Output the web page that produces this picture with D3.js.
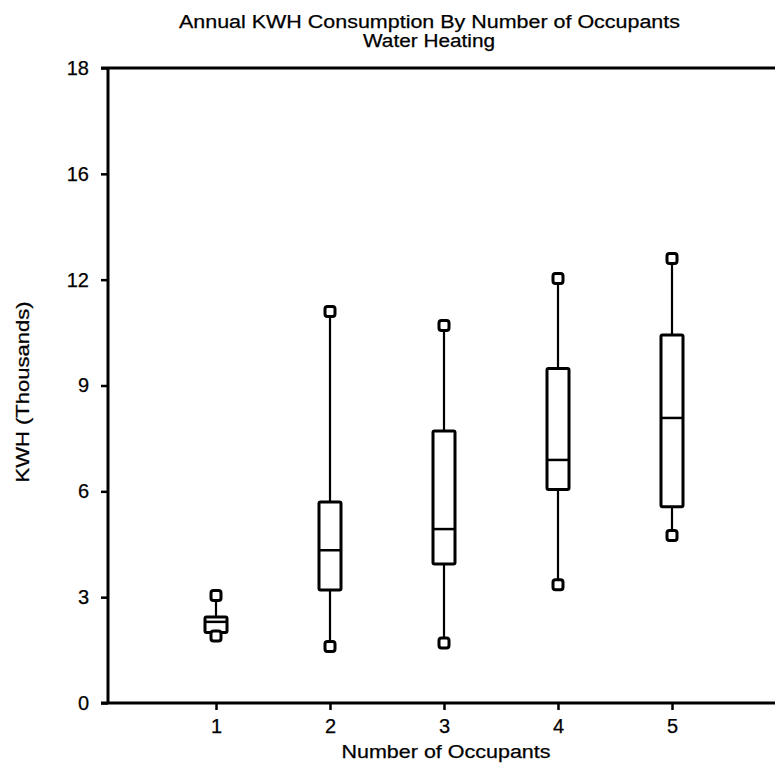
<!DOCTYPE html>
<html>
<head>
<meta charset="utf-8">
<script src="https://cdn.jsdelivr.net/npm/d3@7"></script>
<style>
  body { margin: 0; background: #fff; }
  text { font-family: "Liberation Sans", Arial, Helvetica, sans-serif; fill: #000; stroke: #000; stroke-width: 0.25px; }
</style>
</head>
<body>
<div id="chart"></div>
<script>
// box plot values (KWH, thousands)
const occupants = [1, 2, 3, 4, 5];
const minKwh    = [1.9, 1.6, 1.7, 3.35, 4.75];
const q1Kwh     = [2.0, 3.2, 3.94, 6.05, 5.56];
const medianKwh = [2.3, 4.33, 4.93, 6.89, 8.08];
const q3Kwh     = [2.44, 5.7, 7.71, 9.48, 10.43];
const maxKwh    = [3.05, 11.1, 10.7, 12.03, 12.6];

const yTicks = [0, 3, 6, 9, 12, 15, 18];
const yTickLabels = ["0", "3", "6", "9", "12", "16", "18"];

const width = 775, height = 768;
const plot = {left: 108, right: 775, top: 68, bottom: 703};
const fontFam = "Liberation Sans, Arial, sans-serif";

const x = d3.scaleLinear().domain([0, 6]).range([102, 786]);
const y = d3.scaleLinear().domain([0, 18]).range([plot.bottom, plot.top]);

const svg = d3.select("#chart").append("svg")
    .attr("width", width)
    .attr("height", height);

svg.append("rect").attr("width", width).attr("height", height).attr("fill", "#fff");

// titles
svg.append("text")
    .attr("x", 429.5).attr("y", 28)
    .attr("text-anchor", "middle")
    .attr("font-size", 18)
    .attr("textLength", 501).attr("lengthAdjust", "spacingAndGlyphs")
    .text("Annual KWH Consumption By Number of Occupants");
svg.append("text")
    .attr("x", 429).attr("y", 47)
    .attr("text-anchor", "middle")
    .attr("font-size", 18)
    .attr("textLength", 132).attr("lengthAdjust", "spacingAndGlyphs")
    .text("Water Heating");

// y axis
let yAxis = svg.append("g")
    .attr("transform", `translate(${plot.left},0)`)
    .call(d3.axisLeft(y).tickValues(yTicks)
      .tickFormat((d, i) => yTickLabels[i])
      .tickSize(7).tickPadding(12));
yAxis.select(".domain").remove();
yAxis.selectAll("line").attr("stroke", "#000").attr("stroke-width", 2.5);
yAxis.selectAll("text").style("font-size", "20px").style("font-family", fontFam);

// x axis
let xAxis = svg.append("g")
    .attr("transform", `translate(0,${plot.bottom})`)
    .call(d3.axisBottom(x).tickValues(occupants)
      .tickFormat(d3.format("d"))
      .tickSize(7).tickPadding(9));
xAxis.select(".domain").remove();
xAxis.selectAll("line").attr("stroke", "#000").attr("stroke-width", 2.5);
xAxis.selectAll("text").style("font-size", "20px").style("font-family", fontFam);

// frame lines
svg.append("line")
    .attr("x1", plot.left).attr("x2", plot.left)
    .attr("y1", y(18)).attr("y2", y(0))
    .attr("stroke", "#000").attr("stroke-width", 3);
svg.append("line")
    .attr("x1", plot.left - 7).attr("x2", plot.right)
    .attr("y1", y(0)).attr("y2", y(0))
    .attr("stroke", "#000").attr("stroke-width", 3);
svg.append("line")
    .attr("x1", plot.left - 7).attr("x2", plot.right)
    .attr("y1", y(18)).attr("y2", y(18))
    .attr("stroke", "#000").attr("stroke-width", 3);

// axis titles
svg.append("text")
    .attr("transform", `translate(29,392) rotate(-90)`)
    .attr("text-anchor", "middle")
    .attr("font-size", 18)
    .attr("textLength", 181).attr("lengthAdjust", "spacingAndGlyphs")
    .text("KWH (Thousands)");
svg.append("text")
    .attr("x", 446).attr("y", 758)
    .attr("text-anchor", "middle")
    .attr("font-size", 18)
    .attr("textLength", 209).attr("lengthAdjust", "spacingAndGlyphs")
    .text("Number of Occupants");

// boxes
const boxW = 22, sq = 10;
occupants.forEach((c, i) => {
  let g = svg.append("g");
  let cx = x(c);
  g.append("line")
    .attr("x1", cx).attr("x2", cx)
    .attr("y1", y(minKwh[i])).attr("y2", y(maxKwh[i]))
    .attr("stroke", "#000").attr("stroke-width", 2.2);
  g.append("rect")
    .attr("x", cx - boxW / 2).attr("width", boxW)
    .attr("y", y(q3Kwh[i])).attr("height", y(q1Kwh[i]) - y(q3Kwh[i]))
    .attr("rx", 1.5)
    .attr("fill", "#fff").attr("stroke", "#000").attr("stroke-width", 3);
  g.append("line")
    .attr("x1", cx - boxW / 2).attr("x2", cx + boxW / 2)
    .attr("y1", y(medianKwh[i])).attr("y2", y(medianKwh[i]))
    .attr("stroke", "#000").attr("stroke-width", 2.5);
  [minKwh[i], maxKwh[i]].forEach(v => {
    g.append("rect")
      .attr("x", cx - sq / 2).attr("y", y(v) - sq / 2)
      .attr("width", sq).attr("height", sq)
      .attr("rx", 2.5)
      .attr("fill", "#fff").attr("stroke", "#000").attr("stroke-width", 3);
  });
});
</script>
</body>
</html>
